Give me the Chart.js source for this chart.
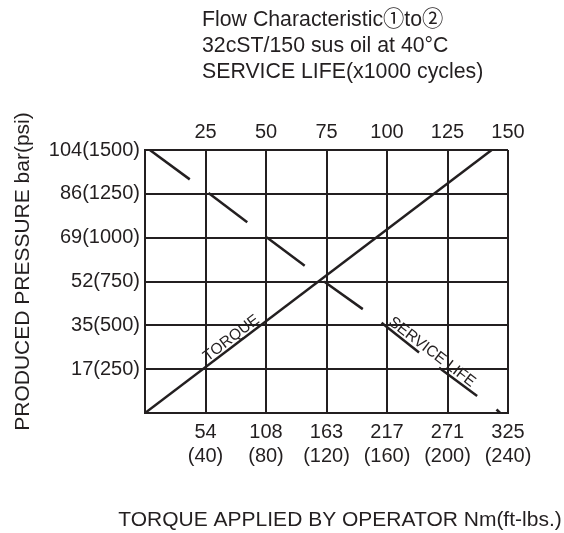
<!DOCTYPE html>
<html>
<head>
<meta charset="utf-8">
<script src="https://cdn.jsdelivr.net/npm/chart.js@4.4.0/dist/chart.umd.min.js"></script>
<style>
html, body { margin:0; padding:0; background:#fff; }
</style>
</head>
<body>
<canvas id="myChart" width="564" height="533"></canvas>
<script>
const titleLines = ['Flow Characteristic\u2460to\u2461', '32cST/150 sus oil at 40\u00b0C', 'SERVICE LIFE(x1000 cycles)'];
const xTitle = 'TORQUE APPLIED BY OPERATOR Nm(ft-lbs.)';
const yTitle = 'PRODUCED PRESSURE bar(psi)';

const torqueNm = ['54', '108', '163', '217', '271', '325'];
const torqueFtLbs = ['(40)', '(80)', '(120)', '(160)', '(200)', '(240)'];
const lifeCycles = ['25', '50', '75', '100', '125', '150'];
const pressureLabels = ['17(250)', '35(500)', '52(750)', '69(1000)', '86(1250)', '104(1500)'];

// values are in grid cells (one cell = one tick step on each axis)
const torqueX = [0, 5.73];
const torqueY = [0, 6];

// service life dashes: start and end of each one
const lifeX1 = [0.08, 1.05, 2.01, 2.96, 3.91, 4.86, 5.81];
const lifeY1 = [6.0, 5.02, 4.01, 3.0, 2.06, 1.03, 0.08];
const lifeX2 = [0.74, 1.69, 2.64, 3.60, 4.53, 5.49, 5.87];
const lifeY2 = [5.33, 4.35, 3.36, 2.37, 1.38, 0.39, 0.0];

// where the in-plot labels sit along their lines
const torqueLabelAt = 1.5;
const lifeLabelAt = 4.67;

const ink = '#231f20';
const fontFam = '"Liberation Sans", Arial, sans-serif';
const cjkFam = '"Noto Sans CJK JP", sans-serif';

function makeSets(){
    var sets = [];
    sets.push({
        data: torqueX.map((x, i) => ({x: x, y: torqueY[i]})),
        borderColor: ink,
        borderWidth: 2.5
    });
    for (let i = 0; i < lifeX1.length; i++) {
        sets.push({
            data: [{x: lifeX1[i], y: lifeY1[i]}, {x: lifeX2[i], y: lifeY2[i]}],
            borderColor: ink,
            borderWidth: 2.5
        });
    }
    return sets;
}

// circled digits come from the CJK font, the rest from the latin one
function drawMixed(ctx, text, x, y, size){
    var parts = text.split(/([\u2460-\u2473])/);
    for (let p of parts) {
        if (!p) continue;
        ctx.font = size + 'px ' + (/[\u2460-\u2473]/.test(p) ? cjkFam : fontFam);
        ctx.fillText(p, x, y);
        x += ctx.measureText(p).width;
    }
}

const textPlugin = {
    id: 'texts',
    afterDraw(chart){
        const ctx = chart.ctx;
        const xs = chart.scales.x;
        const ys = chart.scales.y;
        ctx.save();
        ctx.fillStyle = ink;

        // heading
        ctx.textAlign = 'left';
        ctx.textBaseline = 'alphabetic';
        titleLines.forEach((t, i) => drawMixed(ctx, t, 202, 25.7 + i * 26, 21.3));

        // axis titles
        ctx.font = '21px ' + fontFam;
        ctx.textAlign = 'center';
        ctx.fillText(xTitle, 340, 525.5);
        ctx.save();
        ctx.translate(29, 271.5);
        ctx.rotate(-Math.PI / 2);
        ctx.fillText(yTitle, 0, 0);
        ctx.restore();

        // TORQUE along its line
        ctx.font = '15.5px ' + fontFam;
        var ax = xs.getPixelForValue(torqueX[0]), ay = ys.getPixelForValue(torqueY[0]);
        var bx = xs.getPixelForValue(torqueX[1]), by = ys.getPixelForValue(torqueY[1]);
        var ang = Math.atan2(by - ay, bx - ax);
        var t = torqueLabelAt / (torqueX[1] - torqueX[0]);
        ctx.save();
        ctx.translate(ax + (bx - ax) * t, ay + (by - ay) * t);
        ctx.rotate(ang);
        ctx.fillText('TORQUE', 0, -3);
        ctx.restore();

        // SERVICE LIFE along the dashes
        ax = xs.getPixelForValue(lifeX1[4]); ay = ys.getPixelForValue(lifeY1[4]);
        bx = xs.getPixelForValue(lifeX2[5]); by = ys.getPixelForValue(lifeY2[5]);
        ang = Math.atan2(by - ay, bx - ax);
        t = (lifeLabelAt - lifeX1[4]) / (lifeX2[5] - lifeX1[4]);
        ctx.save();
        ctx.translate(ax + (bx - ax) * t, ay + (by - ay) * t);
        ctx.rotate(ang);
        ctx.fillText('SERVICE LIFE', 0, -3);
        ctx.restore();

        ctx.restore();
    }
};

const tickFont = {family: fontFam, size: 20, lineHeight: 1.18};

const myChart = new Chart(document.getElementById('myChart'), {
    type: 'scatter',
    data: { datasets: makeSets() },
    options: {
        responsive: false,
        animation: false,
        showLine: true,
        elements: { point: { radius: 0 } },
        layout: { padding: { left: 0, right: 56, top: 0, bottom: 0 } },
        plugins: { legend: { display: false }, tooltip: { enabled: false } },
        scales: {
            x: {
                type: 'linear', position: 'bottom', min: 0, max: 6,
                ticks: {
                    stepSize: 1, autoSkip: false, maxRotation: 0, color: ink, font: tickFont, padding: 8,
                    callback: v => v >= 1 ? [torqueNm[v - 1], torqueFtLbs[v - 1]] : ''
                },
                grid: { color: ink, lineWidth: 2, drawTicks: false },
                border: { color: ink, width: 2 },
                afterFit: s => { s.height = 120; }
            },
            x2: {
                type: 'linear', position: 'top', min: 0, max: 6,
                ticks: {
                    stepSize: 1, autoSkip: false, maxRotation: 0, color: ink, font: tickFont, padding: 6,
                    callback: v => v >= 1 ? lifeCycles[v - 1] : ''
                },
                grid: { display: false, drawTicks: false },
                border: { display: false },
                afterFit: s => { s.height = 150; }
            },
            y: {
                type: 'linear', min: 0, max: 6,
                ticks: {
                    stepSize: 1, autoSkip: false, color: ink, font: tickFont, padding: 5,
                    callback: v => v >= 1 ? pressureLabels[v - 1] : ''
                },
                grid: { color: ink, lineWidth: 2, drawTicks: false },
                border: { color: ink, width: 2 },
                afterFit: s => { s.width = 145; }
            }
        }
    },
    plugins: [textPlugin]
});
</script>
</body>
</html>
